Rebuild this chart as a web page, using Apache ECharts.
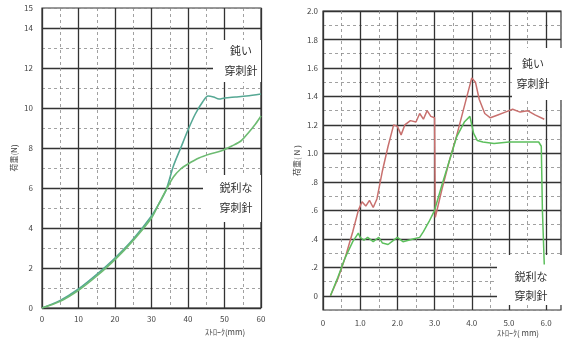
<!DOCTYPE html>
<html>
<head>
<meta charset="utf-8">
<script src="https://cdn.jsdelivr.net/npm/echarts@6/dist/echarts.min.js"></script>
<style>html,body{margin:0;padding:0;background:#fff}#main{width:564px;height:340px}</style>
</head>
<body>
<div id="main"></div>
<script>
// left panel: blunt / sharp needle
var leftBluntX = [0, 5, 10, 15, 20, 25, 30, 32, 34, 36, 38, 40, 42, 44, 45.5, 47, 48.5, 50, 53, 56, 60];
var leftBluntY = [0, 0.38, 0.95, 1.68, 2.5, 3.45, 4.6, 5.2, 5.9, 7.1, 8.0, 8.9, 9.7, 10.3, 10.6, 10.55, 10.45, 10.5, 10.55, 10.6, 10.7];
var leftSharpX = [0, 5, 10, 15, 20, 25, 30, 32, 34, 36, 38, 40, 43, 46, 49, 52, 54.5, 56.5, 58.5, 60];
var leftSharpY = [0, 0.33, 0.88, 1.6, 2.42, 3.38, 4.5, 5.2, 5.9, 6.55, 6.95, 7.2, 7.5, 7.7, 7.85, 8.1, 8.35, 8.75, 9.2, 9.6];

// right panel
var rightBluntX = [0.2, 0.4, 0.6, 0.8, 0.95, 1.05, 1.15, 1.25, 1.35, 1.45, 1.6, 1.75, 1.9, 2.0, 2.1, 2.2, 2.35, 2.5, 2.6, 2.7, 2.8, 2.9, 3.0, 3.02, 3.2, 3.4, 3.6, 3.8, 4.0, 4.1, 4.2, 4.35, 4.5, 4.7, 4.9, 5.1, 5.3, 5.5, 5.7, 5.95];
var rightBluntY = [0, 0.12, 0.27, 0.45, 0.6, 0.66, 0.63, 0.67, 0.62, 0.68, 0.88, 1.05, 1.2, 1.19, 1.13, 1.2, 1.23, 1.22, 1.28, 1.24, 1.3, 1.26, 1.25, 0.55, 0.75, 0.95, 1.13, 1.33, 1.53, 1.5, 1.38, 1.28, 1.25, 1.27, 1.29, 1.31, 1.29, 1.3, 1.27, 1.24];
var rightSharpX = [0.2, 0.4, 0.6, 0.8, 0.95, 1.0, 1.1, 1.2, 1.35, 1.5, 1.6, 1.75, 1.85, 2.0, 2.15, 2.3, 2.45, 2.6, 2.7, 2.85, 3.0, 3.2, 3.4, 3.6, 3.8, 3.95, 4.05, 4.15, 4.3, 4.6, 5.0, 5.4, 5.8, 5.87, 5.9, 5.95];
var rightSharpY = [0, 0.13, 0.27, 0.38, 0.44, 0.41, 0.39, 0.41, 0.38, 0.41, 0.37, 0.36, 0.38, 0.41, 0.38, 0.39, 0.4, 0.41, 0.45, 0.52, 0.6, 0.78, 0.95, 1.12, 1.22, 1.26, 1.14, 1.09, 1.08, 1.07, 1.08, 1.08, 1.08, 1.05, 0.6, 0.22];

var font = '"Noto Sans CJK JP", "Noto Sans", sans-serif';
var major = '#333';
var minor = '#8a8a8a';
var none = 'rgba(0,0,0,0)';

function pairs(xs, ys) {
  return xs.map(function (x, i) { return [x, ys[i]]; });
}

function gridAxis(base, colors, width, type, labels) {
  return Object.assign({
    type: 'value',
    axisLine: { show: false },
    axisTick: { show: false },
    axisLabel: labels || { show: false },
    splitLine: { show: true, lineStyle: { color: colors, width: width, type: type } }
  }, base);
}

var lblStyle = { color: '#444', fontSize: 8, fontFamily: font };

var myChart = echarts.init(document.getElementById('main'));
var option = {
  animation: false,
  grid: [
    { left: 42, top: 8, width: 219, height: 300, show: true, borderColor: major, borderWidth: 1.2 },
    { left: 323, top: 11, width: 239, height: 299, show: true, borderColor: major, borderWidth: 1.2 }
  ],
  xAxis: [
    gridAxis({ gridIndex: 0, min: 0, max: 60, interval: 5 }, [major, none], 1.3, 'solid',
      Object.assign({ margin: 7, formatter: function (v) { return v % 10 === 0 ? String(v) : ''; } }, lblStyle)),
    gridAxis({ gridIndex: 0, min: 0, max: 60, interval: 5 }, [none, minor], 0.8, [3, 3]),
    gridAxis({ gridIndex: 1, min: 0, max: 6.4, interval: 0.5 }, [major, none], 1.3, 'solid',
      Object.assign({ margin: 9, formatter: function (v) {
        if (Math.abs(v - Math.round(v)) > 1e-6 || v > 6) return '';
        return v === 0 ? '0' : v.toFixed(1);
      } }, lblStyle)),
    gridAxis({ gridIndex: 1, min: 0, max: 6.4, interval: 0.5 }, [none, minor], 0.8, [3, 3])
  ],
  yAxis: [
    gridAxis({ gridIndex: 0, min: 0, max: 15, interval: 1, name: '荷重(N)', nameLocation: 'middle', nameGap: 24, nameRotate: 90,
      nameTextStyle: { color: '#444', fontSize: 8, fontFamily: font } }, [major, none], 1.3, 'solid',
      Object.assign({ margin: 9, formatter: function (v) { return (v % 2 === 0 || v === 15) ? String(v) : ''; } }, lblStyle)),
    gridAxis({ gridIndex: 0, min: 0, max: 15, interval: 1 }, [none, minor], 0.8, [3, 3]),
    gridAxis({ gridIndex: 1, min: -0.1, max: 2.0, interval: 0.1, name: '荷重( N )', nameLocation: 'middle', nameGap: 22, nameRotate: 90,
      nameTextStyle: { color: '#444', fontSize: 8, fontFamily: font } }, [none, major], 1.3, 'solid',
      Object.assign({ margin: 5, formatter: function (v) {
        var t = Math.round(v * 10);
        if (t < 0 || t % 2 !== 0) return '';
        if (t === 0) return '0';
        return t < 10 ? '.' + t : (t / 10).toFixed(1);
      } }, lblStyle)),
    gridAxis({ gridIndex: 1, min: -0.1, max: 2.0, interval: 0.1 }, [minor, none], 0.8, [3, 3])
  ],
  graphic: [
    { type: 'rect', z: 1, shape: { x: 213, y: 40, width: 48, height: 42 }, style: { fill: '#fff' } },
    { type: 'rect', z: 1, shape: { x: 203, y: 175, width: 58, height: 47 }, style: { fill: '#fff' } },
    { type: 'rect', z: 1, shape: { x: 512, y: 48, width: 50, height: 52 }, style: { fill: '#fff' } },
    { type: 'rect', z: 1, shape: { x: 497, y: 255, width: 65, height: 50 }, style: { fill: '#fff' } },
    { type: 'text', z: 1, x: 241, y: 61, style: { text: '鈍い\n穿刺針', fill: '#333', fontSize: 11, fontFamily: font, lineHeight: 20, align: 'center', verticalAlign: 'middle' } },
    { type: 'text', z: 1, x: 236, y: 198, style: { text: '鋭利な\n穿刺針', fill: '#333', fontSize: 11, fontFamily: font, lineHeight: 20, align: 'center', verticalAlign: 'middle' } },
    { type: 'text', z: 1, x: 533, y: 74, style: { text: '鈍い\n穿刺針', fill: '#333', fontSize: 11, fontFamily: font, lineHeight: 20, align: 'center', verticalAlign: 'middle' } },
    { type: 'text', z: 1, x: 531, y: 286, style: { text: '鋭利な\n穿刺針', fill: '#333', fontSize: 11, fontFamily: font, lineHeight: 19, align: 'center', verticalAlign: 'middle' } },
    { type: 'text', z: 1, x: 225, y: 332, style: { text: 'ｽﾄﾛｰｸ(mm)', fill: '#444', fontSize: 8, fontFamily: font, align: 'center', verticalAlign: 'middle' } },
    { type: 'text', z: 1, x: 518, y: 333, style: { text: 'ｽﾄﾛｰｸ( mm)', fill: '#444', fontSize: 8, fontFamily: font, align: 'center', verticalAlign: 'middle' } }
  ],
  series: [
    { name: '鈍い穿刺針', type: 'line', xAxisIndex: 0, yAxisIndex: 0, smooth: 0.3, showSymbol: false,
      lineStyle: { color: '#56a894', width: 1.6 }, data: pairs(leftBluntX, leftBluntY) },
    { name: '鋭利な穿刺針', type: 'line', xAxisIndex: 0, yAxisIndex: 0, smooth: 0.3, showSymbol: false,
      lineStyle: { color: '#6dbb72', width: 1.6 }, data: pairs(leftSharpX, leftSharpY) },
    { name: '鈍い穿刺針', type: 'line', xAxisIndex: 2, yAxisIndex: 2, showSymbol: false,
      lineStyle: { color: '#c8706e', width: 1.5 }, data: pairs(rightBluntX, rightBluntY) },
    { name: '鋭利な穿刺針', type: 'line', xAxisIndex: 2, yAxisIndex: 2, showSymbol: false,
      lineStyle: { color: '#5cbf5c', width: 1.5 }, data: pairs(rightSharpX, rightSharpY) }
  ]
};
myChart.setOption(option);
</script>
</body>
</html>
